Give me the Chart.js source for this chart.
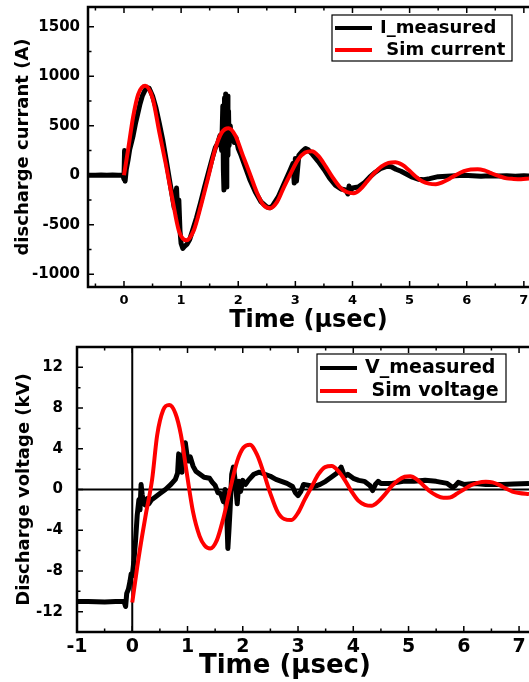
<!DOCTYPE html>
<html>
<head>
<meta charset="utf-8">
<script src="https://cdn.jsdelivr.net/npm/chart.js@4.4.0/dist/chart.umd.min.js"></script>
<style>
body { margin: 0; background: #fff; }
canvas { position: absolute; left: 0; }
#top { top: 0; }
#bottom { top: 338px; }
</style>
</head>
<body>
<canvas id="top" width="529" height="338"></canvas>
<canvas id="bottom" width="529" height="344"></canvas>
<script>
// tick labels
const timeTicks = [-1, 0, 1, 2, 3, 4, 5, 6, 7];
const currentTicks = [-1000, -500, 0, 500, 1000, 1500];
const voltageTicks = [-12, -8, -4, 0, 4, 8, 12];

// [time (µs), current (A)]
const iMeasured = [
  [-0.63,0],[-0.5,0],[-0.4,3],[-0.3,0],[-0.2,2],[-0.1,0],[-0.02,0],[0,-40],[0.01,250],[0.02,-60],
  [0.04,60],[0.07,150],[0.1,260],[0.13,330],[0.16,400],[0.2,520],[0.24,620],[0.28,720],[0.32,800],
  [0.36,850],[0.4,885],[0.44,880],[0.5,800],[0.56,680],[0.62,520],[0.68,350],[0.74,150],[0.8,-60],
  [0.85,-230],[0.88,-330],[0.9,-200],[0.92,-130],[0.94,-380],[0.96,-250],[0.98,-560],[1.0,-690],
  [1.03,-740],[1.06,-720],[1.1,-700],[1.15,-650],[1.2,-560],[1.27,-430],[1.34,-280],[1.41,-120],
  [1.48,30],[1.55,180],[1.6,280],[1.64,320],[1.68,400],[1.71,250],[1.73,700],[1.74,50],[1.75,-150],
  [1.76,780],[1.77,350],[1.78,820],[1.79,-120],[1.8,600],[1.81,800],[1.82,200],[1.83,650],[1.84,300],
  [1.86,500],[1.88,350],[1.9,420],[1.93,330],[1.96,380],[2.0,270],[2.05,200],[2.1,120],[2.2,-40],
  [2.3,-170],[2.4,-270],[2.5,-320],[2.55,-330],[2.6,-310],[2.7,-220],[2.8,-90],[2.9,40],[2.96,120],
  [2.98,-80],[3.0,170],[3.02,-60],[3.06,200],[3.12,240],[3.18,270],[3.22,260],[3.3,210],[3.4,140],
  [3.5,60],[3.6,-30],[3.7,-100],[3.8,-140],[3.88,-150],[3.92,-190],[3.94,-110],[3.96,-170],[4.0,-130],
  [4.1,-120],[4.2,-80],[4.3,-20],[4.4,30],[4.5,70],[4.6,90],[4.68,85],[4.76,60],[4.85,40],[4.95,10],
  [5.05,-20],[5.15,-40],[5.25,-45],[5.35,-35],[5.5,-15],[5.65,-10],[5.8,-5],[5.95,0],[6.1,-5],
  [6.25,-10],[6.4,-5],[6.55,-8],[6.7,-5],[6.85,-10],[7.0,-5],[7.09,-8]
];
const simCurrent = [
  [0,0],[0.07,250],[0.16,590],[0.25,820],[0.37,905],[0.5,780],[0.62,430],[0.73,120],[0.85,-250],
  [0.96,-560],[1.09,-658],[1.22,-560],[1.35,-300],[1.47,-30],[1.6,270],[1.71,430],[1.83,475],
  [1.95,400],[2.08,200],[2.2,20],[2.33,-180],[2.44,-300],[2.56,-334],[2.68,-270],[2.8,-120],[2.92,20],
  [3.05,160],[3.17,230],[3.29,243],[3.41,190],[3.53,90],[3.65,-20],[3.78,-120],[3.9,-170],[4.02,-182],
  [4.14,-140],[4.26,-60],[4.38,20],[4.51,90],[4.63,125],[4.75,131],[4.87,105],[4.99,50],[5.1,-10],
  [5.22,-60],[5.34,-85],[5.46,-91],[5.58,-70],[5.7,-35],[5.82,5],[5.95,40],[6.07,58],[6.19,61],
  [6.31,48],[6.43,20],[6.57,-10],[6.7,-32],[6.82,-38],[6.95,-41],[7.09,-33]
];
// [time (µs), voltage (kV)]
const vMeasured = [
  [-1,-11],[-0.8,-11],[-0.5,-11.05],[-0.3,-11],[-0.15,-11],[-0.12,-11.5],[-0.1,-10.2],[-0.07,-9.8],
  [-0.04,-9],[-0.02,-8.3],[0,-8.5],[0.03,-7],[0.06,-5],[0.09,-2.5],[0.12,-1],[0.14,-2],[0.16,0.5],
  [0.18,-0.5],[0.2,-1.2],[0.23,-1.5],[0.27,-0.9],[0.3,-1.4],[0.35,-1.0],[0.4,-0.8],[0.5,-0.4],[0.6,0],
  [0.7,0.5],[0.78,1.0],[0.82,1.6],[0.84,3.5],[0.86,2.0],[0.88,2.6],[0.9,1.7],[0.93,3.5],[0.96,4.6],
  [0.99,3.4],[1.02,2.8],[1.05,3.2],[1.1,2.3],[1.15,1.8],[1.2,1.6],[1.3,1.2],[1.4,1.1],[1.45,0.7],
  [1.5,0.4],[1.55,-0.3],[1.6,-0.4],[1.65,-1.2],[1.68,0],[1.71,-2.5],[1.73,-5.8],[1.75,-4],[1.77,-2],
  [1.8,1.5],[1.83,2.2],[1.86,1],[1.9,-1.4],[1.93,0.8],[1.96,-0.2],[2.0,0.9],[2.05,0.5],[2.1,0.9],
  [2.2,1.5],[2.3,1.7],[2.4,1.5],[2.5,1.3],[2.6,1.0],[2.7,0.8],[2.8,0.6],[2.9,0.3],[2.95,-0.3],
  [3.0,-0.6],[3.05,-0.2],[3.1,0.5],[3.2,0.4],[3.3,0.3],[3.4,0.5],[3.5,0.8],[3.6,1.2],[3.7,1.6],
  [3.78,2.2],[3.82,1.6],[3.85,1.3],[3.9,1.5],[4.0,1.1],[4.1,0.9],[4.2,0.8],[4.3,0.4],[4.35,-0.1],
  [4.4,0.5],[4.45,0.8],[4.5,0.6],[4.7,0.6],[4.9,0.8],[5.1,0.8],[5.3,0.9],[5.5,0.8],[5.7,0.6],
  [5.8,0.2],[5.85,0.4],[5.9,0.7],[6.0,0.5],[6.2,0.6],[6.4,0.5],[6.7,0.5],[6.9,0.55],[7.18,0.6]
];
const simVoltage = [
  [0,-11.1],[0.09,-7.6],[0.18,-4.5],[0.25,-2.3],[0.36,1.0],[0.45,5.3],[0.56,7.8],[0.67,8.3],
  [0.78,7.5],[0.88,5.4],[0.99,1.5],[1.1,-2.2],[1.22,-4.6],[1.31,-5.5],[1.41,-5.8],[1.53,-5.0],
  [1.65,-2.8],[1.77,0],[1.9,2.8],[2.01,4.1],[2.13,4.4],[2.26,3.4],[2.38,1.6],[2.5,-0.4],[2.63,-2.2],
  [2.75,-2.9],[2.88,-3.0],[3.0,-2.3],[3.12,-1.0],[3.25,0.3],[3.37,1.5],[3.49,2.2],[3.61,2.3],
  [3.73,1.8],[3.85,0.9],[3.97,-0.2],[4.09,-1.1],[4.21,-1.5],[4.33,-1.6],[4.45,-1.2],[4.57,-0.5],
  [4.69,0.3],[4.81,0.9],[4.93,1.25],[5.03,1.3],[5.15,1.0],[5.27,0.4],[5.39,-0.2],[5.51,-0.6],
  [5.63,-0.8],[5.75,-0.78],[5.88,-0.4],[6.0,0],[6.12,0.4],[6.25,0.65],[6.4,0.75],[6.52,0.7],
  [6.64,0.45],[6.76,0.1],[6.88,-0.2],[7.0,-0.35],[7.18,-0.45]
];

const FONT = "'DejaVu Sans'";
Chart.defaults.font.family = FONT;
Chart.defaults.font.weight = 'bold';
Chart.defaults.color = '#000';

const pts = arr => arr.map(p => ({ x: p[0], y: p[1] }));

// frame, inward ticks, optional zero lines
const framePlugin = {
  id: 'frame',
  beforeDatasetsDraw(chart, args, o) {
    if (!o.zeroLines) return;
    const { ctx, chartArea: a, scales: { x, y } } = chart;
    const x0 = x.getPixelForValue(0), y0 = y.getPixelForValue(0);
    ctx.save();
    ctx.strokeStyle = '#000';
    ctx.lineWidth = 2;
    ctx.beginPath();
    ctx.moveTo(x0, a.top); ctx.lineTo(x0, a.bottom);
    ctx.moveTo(a.left, y0); ctx.lineTo(a.right, y0);
    ctx.stroke();
    ctx.restore();
  },
  afterDraw(chart, args, o) {
    const { ctx, chartArea: a, scales: { x, y } } = chart;
    ctx.save();
    ctx.strokeStyle = '#000';
    ctx.lineWidth = 1.5;
    ctx.beginPath();
    for (let k = Math.ceil(x.min / o.xMinor); k * o.xMinor <= x.max; k++) {
      const px = x.getPixelForValue(k * o.xMinor);
      const len = Math.abs(k) % 2 === 0 ? 6 : 3.5;
      ctx.moveTo(px, a.bottom); ctx.lineTo(px, a.bottom - len);
      ctx.moveTo(px, a.top); ctx.lineTo(px, a.top + len);
    }
    for (let k = Math.ceil(y.min / o.yMinor); k * o.yMinor <= y.max; k++) {
      const py = y.getPixelForValue(k * o.yMinor);
      const len = Math.abs(k) % 2 === 0 ? 6 : 3.5;
      ctx.moveTo(a.left, py); ctx.lineTo(a.left + len, py);
    }
    ctx.stroke();
    ctx.lineWidth = 2.5;
    ctx.beginPath();
    ctx.moveTo(a.right + 2, a.top); ctx.lineTo(a.left, a.top);
    ctx.lineTo(a.left, a.bottom); ctx.lineTo(a.right + 2, a.bottom);
    ctx.stroke();
    ctx.restore();
  }
};

// boxed legend inside the plot, like the original
const boxLegend = {
  id: 'boxLegend',
  afterDatasetsDraw(chart, args, o) {
    const { ctx, chartArea: a } = chart;
    const bx = a.right - o.right, by = a.top + o.top;
    ctx.save();
    ctx.fillStyle = '#fff';
    ctx.fillRect(bx, by, o.w, o.h);
    ctx.strokeStyle = '#000';
    ctx.lineWidth = 1.2;
    ctx.strokeRect(bx, by, o.w, o.h);
    ctx.font = 'bold ' + o.size + 'px ' + FONT;
    ctx.textBaseline = 'middle';
    chart.data.datasets.forEach((ds, i) => {
      const ry = by + o.row0 + i * o.rowGap;
      ctx.strokeStyle = ds.borderColor;
      ctx.lineWidth = 4;
      ctx.beginPath();
      ctx.moveTo(bx + 3, ry); ctx.lineTo(bx + 40, ry);
      ctx.stroke();
      ctx.fillStyle = '#000';
      ctx.fillText(ds.label, bx + 48, ry);
    });
    ctx.restore();
  }
};

function xAxis(min, max, tickSize, tickPad, title, titleSize, titlePad, height) {
  return {
    type: 'linear', min: min, max: max,
    grid: { display: false, drawTicks: false },
    border: { display: false },
    afterBuildTicks: s => {
      s.ticks = timeTicks.filter(v => v >= min && v <= max).map(v => ({ value: v }));
    },
    ticks: { autoSkip: false, maxRotation: 0, padding: tickPad, font: { size: tickSize },
             callback: v => String(v) },
    title: { display: true, text: title, font: { size: titleSize },
             padding: { top: 0, bottom: titlePad } },
    afterFit: s => { s.height = height; s.paddingLeft = 0; s.paddingRight = 0; }
  };
}

function yAxis(min, max, tickVals, label, tickPad, titlePad, width) {
  return {
    type: 'linear', min: min, max: max,
    grid: { display: false, drawTicks: false },
    border: { display: false },
    afterBuildTicks: s => { s.ticks = tickVals.map(v => ({ value: v })); },
    ticks: { autoSkip: false, padding: tickPad, font: { size: 15 },
             callback: v => String(v) },
    title: { display: true, text: label, font: { size: 18 },
             padding: { top: titlePad, bottom: 0 } },
    afterFit: s => { s.width = width; s.paddingTop = 0; s.paddingBottom = 0; }
  };
}

new Chart(document.getElementById('top'), {
  type: 'line',
  data: {
    datasets: [
      { label: 'I_measured', data: pts(iMeasured), borderColor: '#000', borderWidth: 5,
        pointRadius: 0, tension: 0, borderJoinStyle: 'round', order: 2 },
      { label: ' Sim current', data: pts(simCurrent), borderColor: '#f00', borderWidth: 4,
        pointRadius: 0, cubicInterpolationMode: 'monotone', order: 1 }
    ]
  },
  options: {
    responsive: false,
    animation: false,
    layout: { padding: { top: 7, left: 0, right: 0, bottom: 0 } },
    scales: {
      x: xAxis(-0.63, 7.09, 13, 6, 'Time (µsec)', 24, 3, 51),
      y: yAxis(-1130, 1700, currentTicks, 'discharge currant (A)', 8, 13, 88)
    },
    plugins: {
      legend: { display: false },
      tooltip: { enabled: false },
      frame: { xMinor: 0.5, yMinor: 250, zeroLines: false },
      boxLegend: { right: 197, top: 8, w: 180, h: 46, size: 18, row0: 13, rowGap: 22 }
    }
  },
  plugins: [framePlugin, boxLegend]
});

new Chart(document.getElementById('bottom'), {
  type: 'line',
  data: {
    datasets: [
      { label: 'V_measured', data: pts(vMeasured), borderColor: '#000', borderWidth: 5,
        pointRadius: 0, tension: 0, borderJoinStyle: 'round', order: 2 },
      { label: ' Sim voltage', data: pts(simVoltage), borderColor: '#f00', borderWidth: 4,
        pointRadius: 0, cubicInterpolationMode: 'monotone', order: 1 }
    ]
  },
  options: {
    responsive: false,
    animation: false,
    layout: { padding: { top: 9, left: 0, right: 0, bottom: 0 } },
    scales: {
      // trailing spaces nudge the centred title left, as in the original
      x: xAxis(-1, 7.18, 19, 4, 'Time (µsec)    ', 26, 0, 50),
      y: yAxis(-14, 14, voltageTicks, 'Discharge voltage (kV)', 14, 14, 77)
    },
    plugins: {
      legend: { display: false },
      tooltip: { enabled: false },
      frame: { xMinor: 0.5, yMinor: 2, zeroLines: true },
      boxLegend: { right: 212, top: 7, w: 189, h: 48, size: 19, row0: 14, rowGap: 23 }
    }
  },
  plugins: [framePlugin, boxLegend]
});
</script>
</body>
</html>
